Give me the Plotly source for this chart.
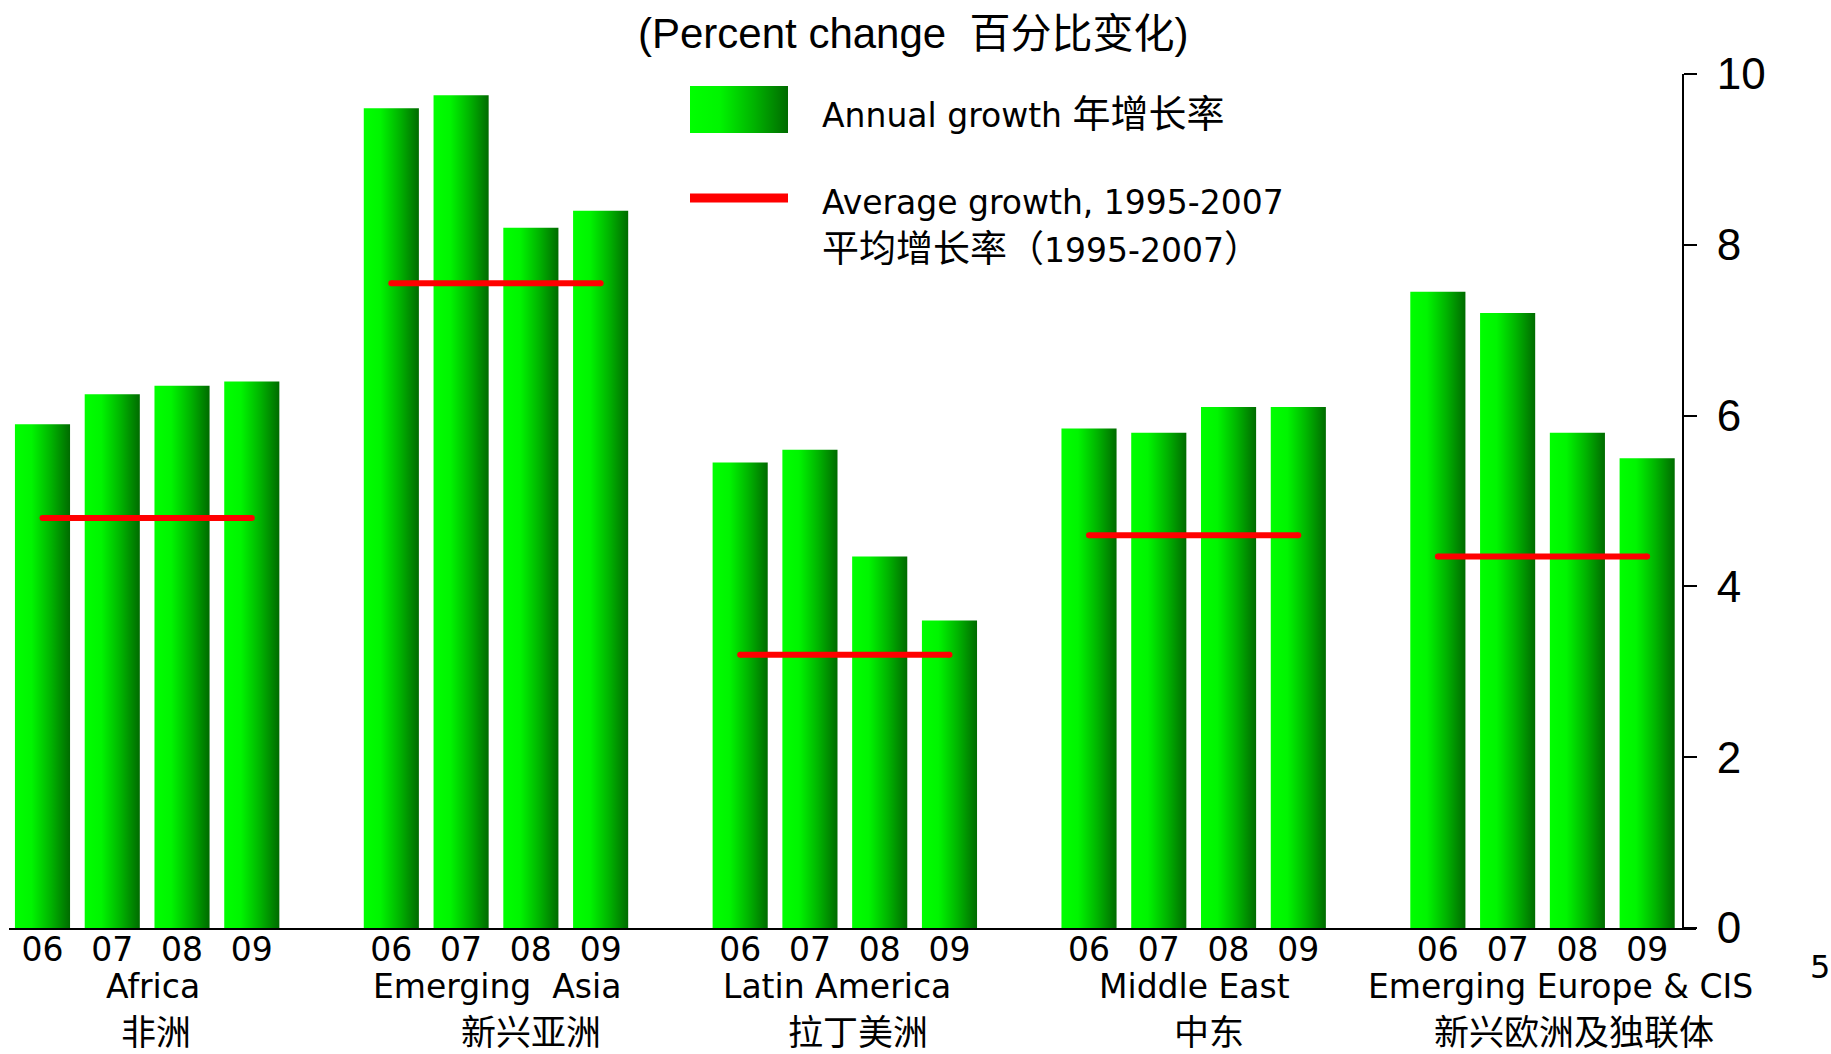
import plotly.graph_objects as go

# ---- data -------------------------------------------------------------
years = ["06", "07", "08", "09"]
regions_en = ["Africa", "Emerging\u00a0 Asia", "Latin America", "Middle East",
              "Emerging Europe &amp; CIS"]
regions_zh = ["非洲", "新兴亚洲", "拉丁美洲", "中东", "新兴欧洲及独联体"]

africa = [5.9, 6.25, 6.35, 6.4]
emerging_asia = [9.6, 9.75, 8.2, 8.4]
latin_america = [5.45, 5.6, 4.35, 3.6]
middle_east = [5.85, 5.8, 6.1, 6.1]
europe_cis = [7.45, 7.2, 5.8, 5.5]
annual = [africa, emerging_asia, latin_america, middle_east, europe_cis]

average_1995_2007 = [4.8, 7.55, 3.2, 4.6, 4.35]

y_ticks = [0, 2, 4, 6, 8, 10]

# ---- layout constants (pixels) -----------------------------------------
W, H = 1831, 1054
L, R, T, B = 9, 135, 74, 126
PW, PH = W - L - R, H - T - B
SLOT = 5            # 4 bars + one empty slot per region
BAR_W = 0.79
YAXIS_PX = 1683     # x pixel of the value axis line

TAHOMA = "DejaVu Sans"
ARIAL = "Liberation Sans"
CJK = "Noto Sans CJK SC"


def px_x(px):
    return (px - L) / PW


def px_y(py):
    return (T + PH - py) / PH


def zh(text, size):
    return f'<span style="font-family:{CJK};font-size:{size}px">{text}</span>'


green_scale = [[0.0, "#00ff00"], [0.3, "#00f500"], [0.65, "#00b400"], [1.0, "#006b00"]]

fig = go.Figure()

# gradient-filled bars
tick_pos, tick_txt = [], []
for g, values in enumerate(annual):
    for i, v in enumerate(values):
        c = g * SLOT + i
        x0, x1 = c - BAR_W / 2, c + BAR_W / 2
        fig.add_trace(go.Scatter(
            x=[x0, x1, x1, x0, x0], y=[0, 0, v, v, 0],
            mode="lines", fill="toself",
            line=dict(width=0, color="rgba(0,0,0,0)"),
            fillgradient=dict(type="horizontal", colorscale=green_scale),
            hoverinfo="skip", showlegend=False))
        tick_pos.append(c)
        tick_txt.append(years[i])

# average-growth lines from first to last bar centre of each region
for g, avg in enumerate(average_1995_2007):
    xs = [g * SLOT, g * SLOT + len(years) - 1]
    fig.add_trace(go.Scatter(
        x=xs, y=[avg, avg], mode="lines+markers",
        line=dict(color="#ff0000", width=6),
        marker=dict(color="#ff0000", size=6),
        hoverinfo="skip", showlegend=False))

# legend swatch on a pixel-space overlay axis pair
fig.add_trace(go.Scatter(
    x=[690, 788, 788, 690, 690], y=[86, 86, 133, 133, 86],
    xaxis="x2", yaxis="y2", mode="lines", fill="toself",
    line=dict(width=0, color="rgba(0,0,0,0)"),
    fillgradient=dict(type="horizontal", colorscale=green_scale),
    hoverinfo="skip", showlegend=False))

x_lo = -0.48
x_hi = 23.70

fig.update_layout(
    width=W, height=H,
    margin=dict(l=L, r=R, t=T, b=B, pad=0),
    paper_bgcolor="white", plot_bgcolor="white",
    showlegend=False,
    xaxis=dict(range=[x_lo, x_hi], domain=[0, 1], showgrid=False, zeroline=False,
               showline=True, linecolor="black", linewidth=2,
               tickmode="array", tickvals=tick_pos, ticktext=tick_txt,
               ticks="", ticklabelstandoff=-9,
               tickfont=dict(family=TAHOMA, size=33, color="black"),
               fixedrange=True),
    yaxis=dict(range=[0, 10], showgrid=False, zeroline=False,
               anchor="free", position=px_x(YAXIS_PX), side="right",
               showline=True, linecolor="black", linewidth=2,
               ticks="outside", ticklen=13, tickwidth=2, tickcolor="black",
               tickvals=y_ticks, ticklabelstandoff=11,
               tickfont=dict(family=ARIAL, size=44, color="black"),
               fixedrange=True),
    xaxis2=dict(overlaying="x", range=[L, L + PW], visible=False, fixedrange=True),
    yaxis2=dict(overlaying="y", anchor="x2", range=[T + PH, T], visible=False,
                fixedrange=True),
)

# legend line swatch
fig.add_shape(type="line", xref="x2", yref="y2", x0=690, x1=788, y0=198, y1=198,
              line=dict(color="#ff0000", width=9))

annotations = []


def note(text, x, y, size, family, xanchor="center"):
    annotations.append(dict(text=text, x=px_x(x), y=px_y(y), xref="paper",
                            yref="paper", showarrow=False, xanchor=xanchor,
                            yanchor="middle",
                            font=dict(family=family, size=size, color="black")))


# title
note("(Percent change  " + zh("百分比变化", 41) + ")", 913, 30, 42, ARIAL)

# legend texts
note("Annual growth " + zh("年增长率", 38), 820, 110, 33, TAHOMA, "left")
note("Average growth, 1995-2007", 820, 203, 33, TAHOMA, "left")
note(zh("平均增长率（", 37) + "1995-2007" + zh("）", 37), 820, 246, 33, TAHOMA, "left")

# region labels under each group (English line, then Chinese line)
en_shift = [6, 1, -8, 1, 18]
zh_shift = [9, 35, 13, 15, 31]
for g in range(len(annual)):
    centre = g * SLOT + (len(years) - 1) / 2
    cx = L + (centre - x_lo) / (x_hi - x_lo) * PW
    note(regions_en[g], cx + en_shift[g], 986, 33, TAHOMA)
    note(zh(regions_zh[g], 35), cx + zh_shift[g], 1029, 30, TAHOMA)

# page number
note("5", 1820, 967, 32, TAHOMA)

fig.update_layout(annotations=annotations)

fig.write_html("out.html")
